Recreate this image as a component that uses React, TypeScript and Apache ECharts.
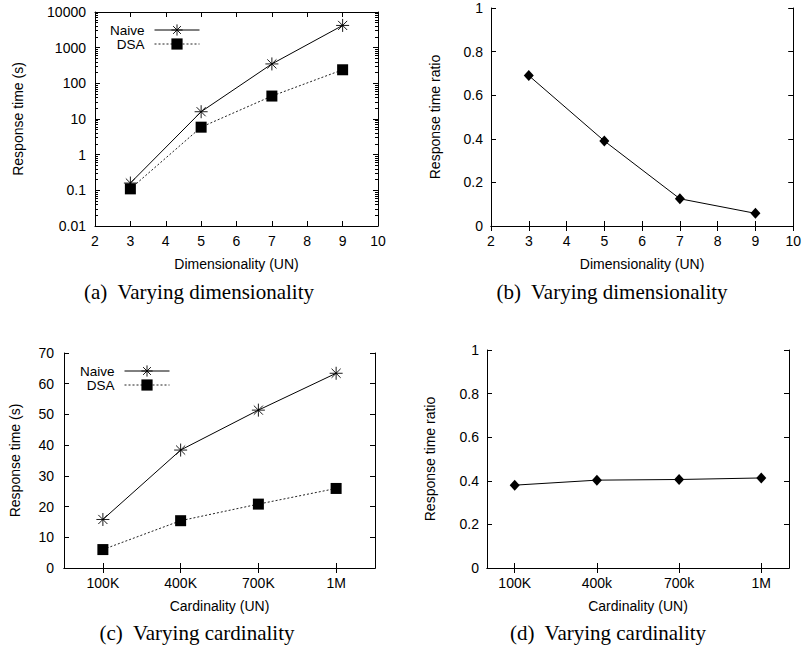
import React, { useEffect, useRef } from 'react';
import * as echarts from 'echarts';

// ---- data ----
const dimensions = [3, 5, 7, 9];
const naiveDim = [0.16, 16, 350, 4200];
const dsaDim = [0.11, 5.9, 44, 240];
const ratioDim = [0.69, 0.39, 0.125, 0.058];

const cardinalities = ['100K', '400K', '700K', '1M'];
const naiveCard = [15.8, 38.4, 51.4, 63.4];
const dsaCard = [6.0, 15.4, 20.8, 25.9];

const cardIndex = [1, 2, 3, 4];
const cardLabelsD = ['100K', '400k', '700k', '1M'];
const ratioCard = [0.38, 0.403, 0.406, 0.413];

const captions = ['(a)\u00a0 Varying dimensionality', '(b)\u00a0 Varying dimensionality', '(c)\u00a0 Varying cardinality', '(d)\u00a0 Varying cardinality'];

// minor tick positions for the log axis
const logMinor: number[] = [];
for (let e = -2; e < 4; e++) {
  for (let m = 2; m <= 9; m++) logMinor.push(parseFloat((m * Math.pow(10, e)).toPrecision(3)));
}

const SANS = '"Liberation Sans", Arial, Helvetica, sans-serif';
const SERIF = '"Liberation Serif", "Times New Roman", serif';
const STAR = 'path://M0,5L10,5M5,0L5,10M1.5,1.5L8.5,8.5M8.5,1.5L1.5,8.5';

const line = { show: true, lineStyle: { color: '#000', width: 1 } };
const tick = (len = 5) => ({ show: true, inside: true, length: len, lineStyle: { color: '#000', width: 1 } });
const label = { color: '#000', fontSize: 14, fontFamily: SANS };
const nameStyle = { color: '#000', fontSize: 14, fontFamily: SANS };
const legendText = { color: '#000', fontSize: 13.5, fontFamily: SANS, lineHeight: 12, padding: [0, 5, 0, 0] };

function axis(extra: any, main: boolean) {
  return {
    axisLine: line,
    axisTick: tick(),
    splitLine: { show: false },
    axisLabel: main ? { ...label, margin: 8 } : { show: false },
    ...extra,
  };
}

function legendItem(name: string, right: number, top: number) {
  return {
    right, top, orient: 'vertical', align: 'right', padding: 0, itemWidth: 45, itemHeight: 14,
    data: [name], textStyle: legendText, selectedMode: false,
    lineStyle: { width: 1 },
    itemStyle: { borderWidth: name === 'Naive' ? 0.9 : 0 },
  };
}

export default function App() {
  const ref = useRef<HTMLDivElement>(null);
  useEffect(() => {
    const chart = echarts.init(ref.current!, null, { renderer: 'svg' });
    const option: any = {
      animation: false,
      backgroundColor: '#fff',
      grid: [
        { left: 95, top: 12, width: 283, height: 214 },
        { left: 491, top: 8, width: 303, height: 218 },
        { left: 64, top: 353, width: 311, height: 215 },
        { left: 487, top: 350, width: 302, height: 218 },
      ],
      xAxis: [
        // (a)
        axis({ gridIndex: 0, type: 'value', min: 2, max: 10, interval: 1, position: 'bottom',
          name: 'Dimensionality (UN)', nameLocation: 'middle', nameGap: 31, nameTextStyle: nameStyle }, true),
        axis({ gridIndex: 0, type: 'value', min: 2, max: 10, interval: 1, position: 'top' }, false),
        // (b)
        axis({ gridIndex: 1, type: 'value', min: 2, max: 10, interval: 1, position: 'bottom',
          name: 'Dimensionality (UN)', nameLocation: 'middle', nameGap: 31, nameTextStyle: nameStyle }, true),
        axis({ gridIndex: 1, type: 'value', min: 2, max: 10, interval: 1, position: 'top' }, false),
        // (c)
        axis({ gridIndex: 2, type: 'category', data: cardinalities, boundaryGap: true, position: 'bottom',
          axisTick: { ...tick(), alignWithLabel: true },
          name: 'Cardinality (UN)', nameLocation: 'middle', nameGap: 31, nameTextStyle: nameStyle }, true),
        axis({ gridIndex: 2, type: 'category', data: cardinalities, boundaryGap: true, position: 'top',
          axisTick: { ...tick(), alignWithLabel: true } }, false),
        // (d)
        axis({ gridIndex: 3, type: 'value', min: 0.663, max: 4.337, position: 'bottom',
          axisTick: { ...tick(), customValues: cardIndex },
          axisLabel: { ...label, margin: 8, customValues: cardIndex, formatter: (v: number) => cardLabelsD[Math.round(v) - 1] },
          name: 'Cardinality (UN)', nameLocation: 'middle', nameGap: 31, nameTextStyle: nameStyle }, true),
        axis({ gridIndex: 3, type: 'value', min: 0.663, max: 4.337, position: 'top',
          axisTick: { ...tick(), customValues: cardIndex },
          axisLabel: { show: false, customValues: cardIndex } }, false),
      ],
      yAxis: [
        // (a) 0..3
        axis({ gridIndex: 0, type: 'log', logBase: 10, min: 0.01, max: 10000, position: 'left',
          axisLabel: { ...label, margin: 9, formatter: (v: number) => String(parseFloat(v.toPrecision(4))) },
          name: 'Response time (s)', nameLocation: 'middle', nameGap: 70, nameTextStyle: nameStyle }, true),
        axis({ gridIndex: 0, type: 'log', logBase: 10, min: 0.01, max: 10000, position: 'right' }, false),
        { gridIndex: 0, type: 'log', logBase: 10, min: 0.01, max: 10000, position: 'left',
          axisLine: { show: false }, splitLine: { show: false }, axisLabel: { show: false },
          axisTick: { ...tick(3), customValues: logMinor } },
        { gridIndex: 0, type: 'log', logBase: 10, min: 0.01, max: 10000, position: 'right',
          axisLine: { show: false }, splitLine: { show: false }, axisLabel: { show: false },
          axisTick: { ...tick(3), customValues: logMinor } },
        // (b) 4..5
        axis({ gridIndex: 1, type: 'value', min: 0, max: 1, interval: 0.2, position: 'left',
          name: 'Response time ratio', nameLocation: 'middle', nameGap: 49, nameTextStyle: nameStyle }, true),
        axis({ gridIndex: 1, type: 'value', min: 0, max: 1, interval: 0.2, position: 'right' }, false),
        // (c) 6..7
        axis({ gridIndex: 2, type: 'value', min: 0, max: 70, interval: 10, position: 'left',
          axisLabel: { ...label, margin: 10 },
          name: 'Response time (s)', nameLocation: 'middle', nameGap: 42, nameTextStyle: nameStyle }, true),
        axis({ gridIndex: 2, type: 'value', min: 0, max: 70, interval: 10, position: 'right' }, false),
        // (d) 8..9
        axis({ gridIndex: 3, type: 'value', min: 0, max: 1, interval: 0.2, position: 'left',
          name: 'Response time ratio', nameLocation: 'middle', nameGap: 50, nameTextStyle: nameStyle }, true),
        axis({ gridIndex: 3, type: 'value', min: 0, max: 1, interval: 0.2, position: 'right' }, false),
      ],
      legend: [
        legendItem('Naive', 604, 23),
        legendItem('DSA', 604, 37),
        legendItem('Naive', 634, 364),
        legendItem('DSA', 634, 378),
      ],
      series: [
        { name: 'Naive', type: 'line', xAxisIndex: 0, yAxisIndex: 0,
          data: dimensions.map((d, i) => [d, naiveDim[i]]),
          symbol: STAR, symbolSize: 13,
          lineStyle: { color: '#000', width: 1 },
          itemStyle: { color: '#000', borderColor: '#000', borderWidth: 0.9 } },
        { name: 'DSA', type: 'line', xAxisIndex: 0, yAxisIndex: 0,
          data: dimensions.map((d, i) => [d, dsaDim[i]]),
          symbol: 'rect', symbolSize: 11,
          lineStyle: { color: '#222', width: 1, type: [2, 2] },
          itemStyle: { color: '#000' } },
        { name: 'Ratio', type: 'line', xAxisIndex: 2, yAxisIndex: 4,
          data: dimensions.map((d, i) => [d, ratioDim[i]]),
          symbol: 'diamond', symbolSize: [10, 11],
          lineStyle: { color: '#000', width: 1 },
          itemStyle: { color: '#000' } },
        { name: 'Naive', type: 'line', xAxisIndex: 4, yAxisIndex: 6,
          data: naiveCard,
          symbol: STAR, symbolSize: 13,
          lineStyle: { color: '#000', width: 1 },
          itemStyle: { color: '#000', borderColor: '#000', borderWidth: 0.9 } },
        { name: 'DSA', type: 'line', xAxisIndex: 4, yAxisIndex: 6,
          data: dsaCard,
          symbol: 'rect', symbolSize: 11,
          lineStyle: { color: '#222', width: 1, type: [2, 2] },
          itemStyle: { color: '#000' } },
        { name: 'Ratio ', type: 'line', xAxisIndex: 6, yAxisIndex: 8,
          data: cardIndex.map((x, i) => [x, ratioCard[i]]),
          symbol: 'diamond', symbolSize: [10, 11],
          lineStyle: { color: '#000', width: 1 },
          itemStyle: { color: '#000' } },
      ],
      graphic: [
        { x: 199, y: 292 }, { x: 612, y: 292 }, { x: 197, y: 633 }, { x: 608, y: 633 },
      ].map((p, i) => ({
        type: 'text', x: p.x, y: p.y, silent: true,
        style: { text: captions[i], fontSize: 21, fontFamily: SERIF, fill: '#000', align: 'center', verticalAlign: 'middle' },
      })),
    };
    chart.setOption(option);
    return () => chart.dispose();
  }, []);
  return <div ref={ref} style={{ position: 'fixed', left: 0, top: 0, width: 804, height: 652, background: '#fff' }} />;
}
